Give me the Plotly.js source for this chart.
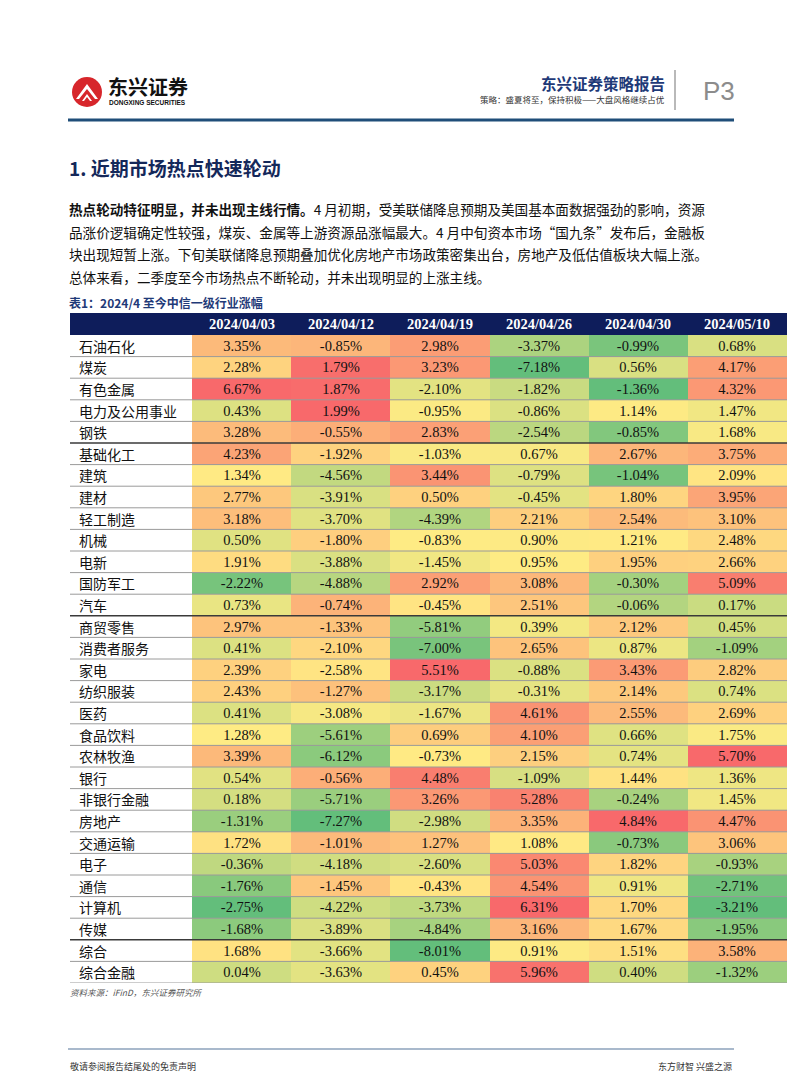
<!DOCTYPE html>
<html>
<head>
<meta charset="utf-8">
<script src="https://cdn.plot.ly/plotly-3.0.1.min.js"></script>
<style>html,body{margin:0;padding:0;background:#fff;}#chart{width:802px;height:1087px;}</style>
</head>
<body>
<div id="chart"></div>
<script>
// ---------- data ----------
const dates = ["2024/04/03","2024/04/12","2024/04/19","2024/04/26","2024/04/30","2024/05/10"];
const industries = ["石油石化","煤炭","有色金属","电力及公用事业","钢铁","基础化工","建筑","建材","轻工制造","机械","电新","国防军工","汽车","商贸零售","消费者服务","家电","纺织服装","医药","食品饮料","农林牧渔","银行","非银行金融","房地产","交通运输","电子","通信","计算机","传媒","综合","综合金融"];
const chg0403 = [3.35,2.28,6.67,0.43,3.28,4.23,1.34,2.77,3.18,0.50,1.91,-2.22,0.73,2.97,0.41,2.39,2.43,0.41,1.28,3.39,0.54,0.18,-1.31,1.72,-0.36,-1.76,-2.75,-1.68,1.68,0.04];
const chg0412 = [-0.85,1.79,1.87,1.99,-0.55,-1.92,-4.56,-3.91,-3.70,-1.80,-3.88,-4.88,-0.74,-1.33,-2.10,-2.58,-1.27,-3.08,-5.61,-6.12,-0.56,-5.71,-7.27,-1.01,-4.18,-1.45,-4.22,-3.89,-3.66,-3.63];
const chg0419 = [2.98,3.23,-2.10,-0.95,2.83,-1.03,3.44,0.50,-4.39,-0.83,-1.45,2.92,-0.45,-5.81,-7.00,5.51,-3.17,-1.67,0.69,-0.73,4.48,3.26,-2.98,1.27,-2.60,-0.43,-3.73,-4.84,-8.01,0.45];
const chg0426 = [-3.37,-7.18,-1.82,-0.86,-2.54,0.67,-0.79,-0.45,2.21,0.90,0.95,3.08,2.51,0.39,2.65,-0.88,-0.31,4.61,4.10,2.15,-1.09,5.28,3.35,1.08,5.03,4.54,6.31,3.16,0.91,5.96];
const chg0430 = [-0.99,0.56,-1.36,1.14,-0.85,2.67,-1.04,1.80,2.54,1.21,1.95,-0.30,-0.06,2.12,0.87,3.43,2.14,2.55,0.66,0.74,1.44,-0.24,4.84,-0.73,1.82,0.91,1.70,1.67,1.51,0.40];
const chg0510 = [0.68,4.17,4.32,1.47,1.68,3.75,2.09,3.95,3.10,2.48,2.66,5.09,0.17,0.45,-1.09,2.82,0.74,2.69,1.75,5.70,1.36,1.45,4.47,3.06,-0.93,-2.71,-3.21,-1.95,3.58,-1.32];
const columns = [chg0403,chg0412,chg0419,chg0426,chg0430,chg0510];

// ---------- per-column 3-colour scale (min / median / max) ----------
function median(a){const s=a.slice().sort((p,q)=>p-q);const n=s.length;return n%2?s[(n-1)/2]:(s[n/2-1]+s[n/2])/2;}
const norm = columns.map(col=>{
  const mn=Math.min(...col), mx=Math.max(...col), md=median(col);
  return col.map(v=> v<=md ? 0.5*(v-mn)/(md-mn) : 0.5+0.5*(v-md)/(mx-md));
});
const z = industries.map((_,r)=>columns.map((_,c)=>norm[c][r]));
const txt = industries.map((_,r)=>columns.map(col=>col[r].toFixed(2)+"%"));

const W=802,H=1087;
const px=x=>x/W, py=y=>1-y/H;

const cjk = '"Noto Sans CJK SC", sans-serif';
const serif = '"Liberation Serif", "Times New Roman", serif';

const trace = {
  type:'heatmap', x:dates, y:industries, z:z, text:txt,
  texttemplate:'%{text}', textfont:{family:serif,size:14.5,color:'#111'},
  colorscale:[[0,'#63BE7B'],[0.5,'#FFEB84'],[1,'#F8696B']], zmin:0, zmax:1,
  showscale:false, hoverinfo:'skip', xgap:0, ygap:0
};

const shapes = [];
const annotations = [];

// table header band
shapes.push({type:'rect',xref:'paper',yref:'paper',x0:px(70),x1:px(787),y0:py(335),y1:py(313),fillcolor:'#0e1d5b',line:{width:0},layer:'above'});
// row separators
const darkAfter = [5,13,28];
for(let i=1;i<=industries.length;i++){
  const dark = darkAfter.includes(i);
  shapes.push({type:'line',xref:'paper',yref:'y',x0:px(70),x1:px(787),y0:i-0.5,y1:i-0.5,
    line:{color: dark?'#3a3a3a':'#9a9a9a', width: dark?1.6:1},layer:'above'});
}
// header date labels
dates.forEach(d=>annotations.push({xref:'x',yref:'paper',x:d,y:py(324),text:'<b>'+d+'</b>',showarrow:false,
  font:{family:serif,size:14.5,color:'#ffffff'},xanchor:'center',yanchor:'middle'}));
// industry labels
industries.forEach(n=>annotations.push({xref:'paper',yref:'y',x:px(77),y:n,text:n,showarrow:false,
  font:{family:cjk,size:14,color:'#111'},xanchor:'left',yanchor:'middle'}));

// ---------- page header ----------
shapes.push({type:'circle',xref:'paper',yref:'paper',x0:px(72),x1:px(102),y0:py(107),y1:py(77),fillcolor:'#d7262b',line:{width:0}});
shapes.push({type:'path',xref:'paper',yref:'paper',
  path:`M ${px(76)} ${py(99)} L ${px(87)} ${py(84)} L ${px(98)} ${py(99)} L ${px(95)} ${py(99)} L ${px(87)} ${py(89)} L ${px(79)} ${py(99)} Z`,
  fillcolor:'#ffffff',line:{width:0}});
shapes.push({type:'path',xref:'paper',yref:'paper',
  path:`M ${px(82)} ${py(101)} L ${px(87)} ${py(94)} L ${px(92)} ${py(101)} L ${px(90)} ${py(101)} L ${px(87)} ${py(97)} L ${px(84)} ${py(101)} Z`,
  fillcolor:'#ffffff',line:{width:0}});
annotations.push({xref:'paper',yref:'paper',x:px(106),y:py(86),text:'<b>东兴证券</b>',showarrow:false,xanchor:'left',yanchor:'middle',
  font:{family:cjk,size:20,color:'#111'}});
annotations.push({xref:'paper',yref:'paper',x:px(107),y:py(103),text:'<b>DONGXING SECURITIES</b>',showarrow:false,xanchor:'left',yanchor:'middle',
  font:{family:'"Liberation Sans", Arial, sans-serif',size:6.5,color:'#111'}});
annotations.push({xref:'paper',yref:'paper',x:px(667),y:py(83),text:'<b>东兴证券策略报告</b>',showarrow:false,xanchor:'right',yanchor:'middle',
  font:{family:cjk,size:15.5,color:'#1f3a78'}});
annotations.push({xref:'paper',yref:'paper',x:px(667),y:py(99),text:'策略：盛夏将至，保持积极——大盘风格继续占优',showarrow:false,xanchor:'right',yanchor:'middle',
  font:{family:cjk,size:8.5,color:'#333'}});
shapes.push({type:'line',xref:'paper',yref:'paper',x0:px(675),x1:px(675),y0:py(70),y1:py(110),line:{color:'#8a8a8a',width:1.2}});
annotations.push({xref:'paper',yref:'paper',x:px(701),y:py(91),text:'P3',showarrow:false,xanchor:'left',yanchor:'middle',
  font:{family:'"Liberation Sans", Arial, sans-serif',size:26,color:'#8c8c8c'}});
shapes.push({type:'line',xref:'paper',yref:'paper',x0:px(68),x1:px(734),y0:py(120),y1:py(120),line:{color:'#1f4e79',width:3}});

// section title
annotations.push({xref:'paper',yref:'paper',x:px(67),y:py(168),text:'<b>1. 近期市场热点快速轮动</b>',showarrow:false,xanchor:'left',yanchor:'middle',
  font:{family:cjk,size:19,color:'#14285a'}});

// paragraph
const para = [
  '<b>热点轮动特征明显，并未出现主线行情。</b>4 月初期，受美联储降息预期及美国基本面数据强劲的影响，资源',
  '品涨价逻辑确定性较强，煤炭、金属等上游资源品涨幅最大。4 月中旬资本市场“国九条”发布后，金融板',
  '块出现短暂上涨。下旬美联储降息预期叠加优化房地产市场政策密集出台，房地产及低估值板块大幅上涨。',
  '总体来看，二季度至今市场热点不断轮动，并未出现明显的上涨主线。'
];
const paraY = [209,232,254,277];
para.forEach((t,i)=>annotations.push({xref:'paper',yref:'paper',x:px(67),y:py(paraY[i]),text:t,showarrow:false,xanchor:'left',yanchor:'middle',
  font:{family:cjk,size:13.6,color:'#111'}}));

// table caption
annotations.push({xref:'paper',yref:'paper',x:px(67),y:py(302),text:'<b>表1：2024/4 至今中信一级行业涨幅</b>',showarrow:false,xanchor:'left',yanchor:'middle',
  font:{family:cjk,size:12,color:'#1f3a78'}});
// source
annotations.push({xref:'paper',yref:'paper',x:px(68),y:py(992),text:'<i>资料来源：iFinD，东兴证券研究所</i>',showarrow:false,xanchor:'left',yanchor:'middle',
  font:{family:cjk,size:8.5,color:'#555'}});

// footer
shapes.push({type:'line',xref:'paper',yref:'paper',x0:px(68),x1:px(734),y0:py(1049),y1:py(1049),line:{color:'#a9b9cc',width:2}});
annotations.push({xref:'paper',yref:'paper',x:px(68),y:py(1066),text:'敬请参阅报告结尾处的免责声明',showarrow:false,xanchor:'left',yanchor:'middle',
  font:{family:cjk,size:9,color:'#333'}});
annotations.push({xref:'paper',yref:'paper',x:px(734),y:py(1066),text:'东方财智 兴盛之源',showarrow:false,xanchor:'right',yanchor:'middle',
  font:{family:cjk,size:9,color:'#333'}});

const layout = {
  width:W,height:H,margin:{l:0,r:0,t:0,b:0},paper_bgcolor:'#fff',plot_bgcolor:'#fff',
  xaxis:{domain:[px(192),px(787)],range:[-0.5,5.5],type:'category',showticklabels:false,showgrid:false,zeroline:false,fixedrange:true,ticks:''},
  yaxis:{domain:[py(983),py(335)],range:[industries.length-0.5,-0.5],type:'category',showticklabels:false,showgrid:false,zeroline:false,fixedrange:true,ticks:''},
  shapes:shapes,annotations:annotations,showlegend:false
};
Plotly.newPlot('chart',[trace],layout,{displayModeBar:false,staticPlot:true});
</script>
</body>
</html>
